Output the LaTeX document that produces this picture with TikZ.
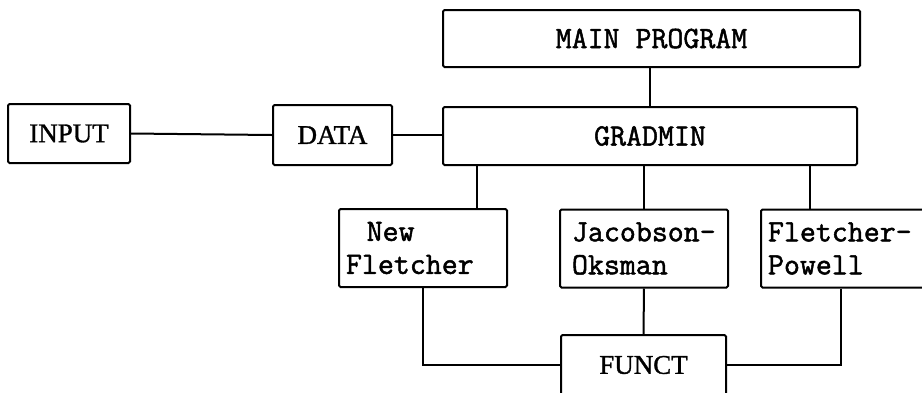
\documentclass[tikz,border=0pt]{standalone}
\usepackage{fontspec}
\setmainfont{Liberation Serif}[FakeBold=1.2]
\newfontfamily\typefont{Latin Modern Mono}[FakeBold=1.6]
\usetikzlibrary{positioning, calc}

\tikzset{
  box/.style={draw, line width=2pt, rounded corners=1.5pt, inner sep=0pt},
  ttbox/.style={box, font=\typefont\bfseries\fontsize{31}{33}\selectfont},
  rmbox/.style={box, font=\fontsize{27}{30}\selectfont},
  method/.style={ttbox, align=left, minimum height=78pt},
  link/.style={line width=2pt}
}

\begin{document}
\begin{tikzpicture}[x=1pt, y=-1pt]
\useasboundingbox (0,0) rectangle (922,392);
\clip (0,0) rectangle (922,392);

% top level
\node[ttbox, minimum width=417pt, minimum height=57pt] (main) at (651.5,38.5) {MAIN PROGRAM};
\node[ttbox, minimum width=414pt, minimum height=58pt] (gradmin) at (650,136) {GRADMIN};
\node[rmbox, minimum width=122pt, minimum height=59pt] (input) at (69,133.5) {INPUT};
\node[rmbox, minimum width=119pt, minimum height=60pt] (data) at (332.5,135) {DATA};

% minimisation methods
\node[method, text width=154pt, inner xsep=7pt] (nfl) at (423,248) {\ \ New\\Fletcher};
\node[method, text width=144pt, inner xsep=12pt] (jacob) at (644,248.5) {Jacobson-\\Oksman};
\node[method, text width=162pt, inner xsep=7pt] (fp) at (849,248.5) {Fletcher-\\Powell};

\node[rmbox, minimum width=165pt, minimum height=60pt] (funct) at (643.5,365) {FUNCT};

% connectors
\draw[link] (input.east) -- (data.west);
\draw[link] (data.east) -- (data.east -| gradmin.west);
\draw[link] (main.south -| gradmin.north) -- (gradmin.north);
\draw[link] ([xshift=35pt]gradmin.south west) -- ([xshift=35pt]gradmin.south west |- nfl.north);
\draw[link] (jacob.north |- gradmin.south) -- (jacob.north);
\draw[link] ([xshift=50pt]fp.north west |- gradmin.south) -- ([xshift=50pt]fp.north west);
\draw[link] (nfl.south) |- (funct.west);
\draw[link] (jacob.south) -- (funct.north);
\draw[link] ([xshift=81pt]fp.south west) |- (funct.east);
\end{tikzpicture}
\end{document}
